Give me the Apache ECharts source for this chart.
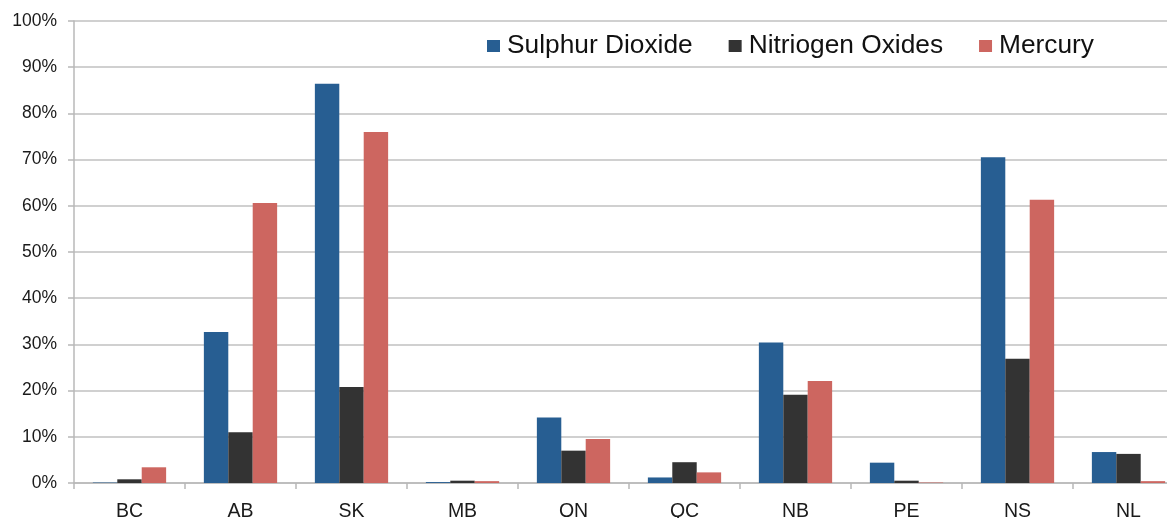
<!DOCTYPE html>
<html>
<head>
<meta charset="utf-8">
<title>Emissions share by province</title>
<script src="https://cdn.jsdelivr.net/npm/echarts@6/dist/echarts.min.js"></script>
<style>
  html, body { margin: 0; padding: 0; background: #ffffff; overflow: hidden; }
  #chart { width: 1167px; height: 518px; }
</style>
</head>
<body>
<div id="chart"></div>
<script>
// Provinces along the category axis
const provinces = ['BC', 'AB', 'SK', 'MB', 'ON', 'QC', 'NB', 'PE', 'NS', 'NL'];

// Share (%) for each pollutant, one value per province
const sulphurDioxide  = [0.1, 32.7, 86.4, 0.2, 14.2, 1.2, 30.4, 4.4, 70.5, 6.7];
const nitrogenOxides  = [0.8, 11.0, 20.8, 0.5, 7.0, 4.5, 19.1, 0.5, 26.9, 6.3];
const mercury         = [3.4, 60.6, 76.0, 0.4, 9.5, 2.3, 22.1, 0.1, 61.3, 0.4];

// Value axis ticks
const yTicks = [0, 10, 20, 30, 40, 50, 60, 70, 80, 90, 100];

const seriesNames = ['Sulphur Dioxide', 'Nitriogen Oxides', 'Mercury'];
const seriesColors = ['#275e92', '#333333', '#cd6660'];
const seriesData = [sulphurDioxide, nitrogenOxides, mercury];

const font = '"Liberation Sans", Arial, Helvetica, sans-serif';
const chart = echarts.init(document.getElementById('chart'), null, { renderer: 'canvas' });

chart.setOption({
  animation: false,
  backgroundColor: '#ffffff',
  // The plot runs a little past the right edge of the canvas
  grid: { left: 74, width: 1110, top: 21, bottom: 35, containLabel: false, outerBoundsMode: 'none' },
  legend: {
    left: 487,
    top: 33,
    padding: 0,
    itemWidth: 13,
    itemHeight: 12,
    itemGap: 36,
    icon: 'rect',
    textStyle: { fontFamily: font, fontSize: 26.3, color: '#111111', padding: [0, 0, 0, 2] },
    data: seriesNames
  },
  xAxis: {
    type: 'category',
    data: provinces,
    axisLine: { lineStyle: { color: '#b8b8b8', width: 1.5 } },
    axisTick: { show: true, length: 6, alignWithLabel: false, lineStyle: { color: '#b8b8b8', width: 1.5 } },
    axisLabel: { fontFamily: font, fontSize: 19.5, color: '#1a1a1a', margin: 19 },
    splitLine: { show: false }
  },
  yAxis: {
    type: 'value',
    min: yTicks[0],
    max: yTicks[yTicks.length - 1],
    interval: yTicks[1] - yTicks[0],
    axisLine: { show: true, lineStyle: { color: '#b8b8b8', width: 1.5 } },
    axisTick: { show: true, length: 6, lineStyle: { color: '#b8b8b8', width: 1.5 } },
    axisLabel: { fontFamily: font, fontSize: 17.5, color: '#1a1a1a', margin: 17, formatter: '{value}%' },
    splitLine: { show: true, lineStyle: { color: '#c0c0c0', width: 1.5 } }
  },
  series: seriesNames.map((name, i) => ({
    name: name,
    type: 'bar',
    data: seriesData[i],
    barGap: '0%',
    barCategoryGap: '34%',
    itemStyle: { color: seriesColors[i] }
  }))
});
</script>
</body>
</html>
